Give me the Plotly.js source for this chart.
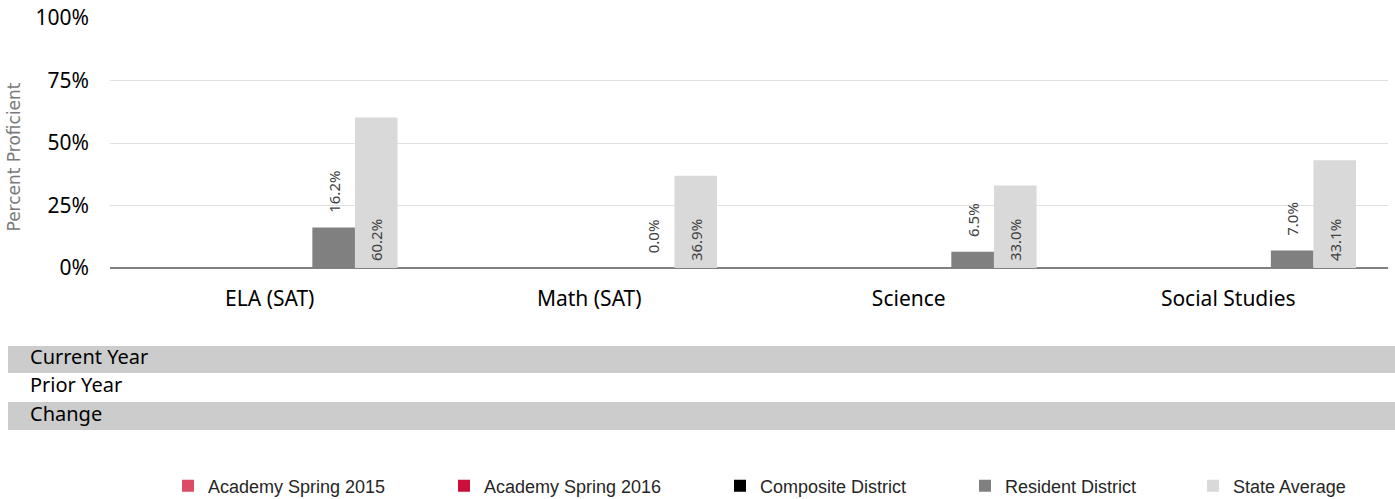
<!DOCTYPE html>
<html>
<head>
<meta charset="utf-8">
<script src="https://cdn.plot.ly/plotly-3.0.1.min.js"></script>
<style>html,body{margin:0;padding:0;background:#fff;}#chart{width:1395px;height:499px;}</style>
</head>
<body>
<div id="chart"></div>
<script>
const categories = ["ELA (SAT)", "Math (SAT)", "Science", "Social Studies"];
const academy2015 = [null, null, null, null];
const academy2016 = [null, null, null, null];
const composite = [null, null, null, null];
const extraSlot = [null, null, null, null];
const resident = [16.2, 0.0, 6.5, 7.0];
const stateAvg = [60.2, 36.9, 33.0, 43.1];
const yTicks = [0, 25, 50, 75, 100];
const rowLabels = ["Current Year", "Prior Year", "Change"];
const yTitle = "Percent Proficient";

const W = 1395, H = 499;
const L = 110, R = 7, T = 18, B = 231;
const pw = W - L - R, ph = H - T - B;
const px = x => (x - L) / pw;
const py = y => (H - B - y) / ph;

const NB = "\u00a0";
const fmt = (v, pad) => v == null ? "" : NB.repeat(pad) + v.toFixed(1) + "%";
const lblFont = {family: "Noto Sans, Open Sans, sans-serif", size: 15, color: "#404040"};

function bar(name, vals, color, legendId, pad, opts) {
  return Object.assign({
    type: "bar", name: name, x: categories, y: vals,
    marker: {color: color},
    legend: legendId,
    text: vals.map(v => fmt(v, pad)), textangle: -90,
    textfont: lblFont, insidetextfont: lblFont, outsidetextfont: lblFont,
    constraintext: "none", cliponaxis: false,
    hoverinfo: "x+y"
  }, opts || {});
}

const traces = [
  bar("Academy Spring 2015", academy2015, "#dc4b65", "legend", 0),
  bar("Academy Spring 2016", academy2016, "#cc0e3a", "legend2", 0),
  bar("Composite District", composite, "#000000", "legend3", 0),
  bar("", extraSlot, "#ffffff", "legend", 0, {showlegend: false}),
  bar("Resident District", resident, "#808080", "legend4", 3, {textposition: "outside"}),
  bar("State Average", stateAvg, "#d9d9d9", "legend5", 1, {textposition: "inside", insidetextanchor: "start"})
];

const shapes = [];
const annotations = [];
const rows = [[346, 373, true], [373, 401, false], [402, 430, true]];
rows.forEach((r, i) => {
  if (r[2]) shapes.push({type: "rect", xref: "paper", yref: "paper", x0: px(8), x1: px(1395), y0: py(r[0]), y1: py(r[1]), fillcolor: "#cccccc", line: {width: 0}, layer: "below"});
  annotations.push({xref: "paper", yref: "paper", x: px(28), y: py((r[0] + r[1]) / 2 - 3), xanchor: "left", yanchor: "middle", text: rowLabels[i], showarrow: false, font: {family: "Noto Sans, Open Sans, sans-serif", size: 20, color: "#000000"}});
});
annotations.push({xref: "paper", yref: "paper", x: px(13), y: py(157.5), xanchor: "center", yanchor: "middle", textangle: -90, text: yTitle, showarrow: false, font: {family: "DejaVu Sans, sans-serif", size: 17, color: "#7a7a7a"}});

const legFont = {family: "Liberation Sans, Arial, sans-serif", size: 18, color: "#262626"};
const legX = [188, 464, 740, 985, 1213];
function leg(i) {
  return {orientation: "h", xref: "container", yref: "container", x: (legX[i] - 20) / W, y: 1 - 486 / H, xanchor: "left", yanchor: "middle", font: legFont, bgcolor: "rgba(0,0,0,0)", itemwidth: 30};
}

const tickFont = {family: "Noto Sans, Open Sans, sans-serif", size: 21, color: "#000000"};
const layout = {
  width: W, height: H,
  margin: {l: L, r: R, t: T, b: B, pad: 0},
  paper_bgcolor: "#ffffff", plot_bgcolor: "#ffffff",
  barmode: "group", bargap: 0.2, bargroupgap: 0,
  font: {family: "Noto Sans, Open Sans, sans-serif", color: "#000000"},
  xaxis: {
    type: "category", showgrid: false, showline: false, zeroline: false,
    ticks: "", tickfont: tickFont,
    ticklabelstandoff: 16
  },
  yaxis: {
    range: [0, 100], tickvals: yTicks, ticktext: yTicks.map(v => v + "%"),
    showgrid: true, gridcolor: "#e0e0e0", gridwidth: 1,
    zeroline: true, zerolinecolor: "#808080", zerolinewidth: 2,
    showline: false, ticks: "",
    tickfont: tickFont,
    ticklabelstandoff: 20
  },
  legend: leg(0), legend2: leg(1), legend3: leg(2), legend4: leg(3), legend5: leg(4),
  shapes: shapes, annotations: annotations
};

Plotly.newPlot("chart", traces, layout, {displayModeBar: false, staticPlot: true});
</script>
</body>
</html>
